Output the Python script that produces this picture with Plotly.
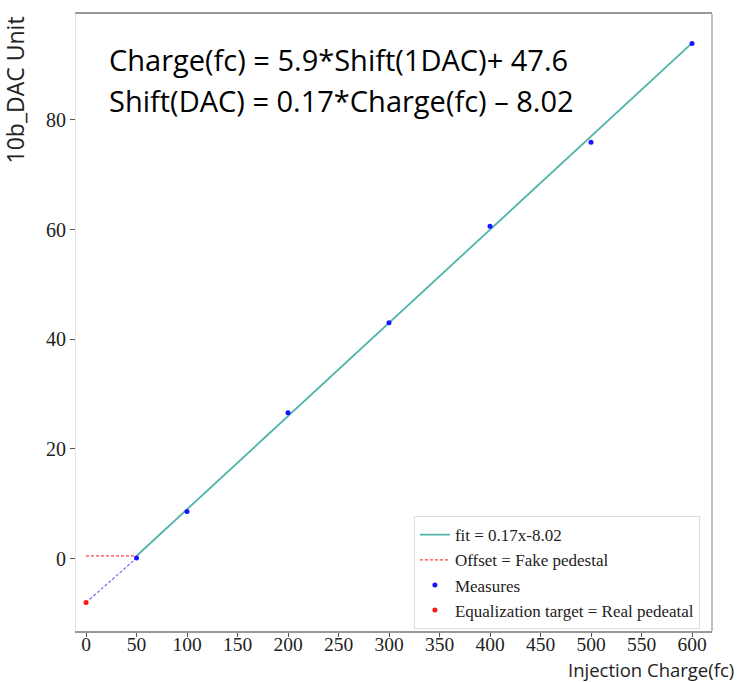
import plotly.graph_objects as go

# data
charge = [50, 100, 200, 300, 400, 500, 600]
dac_measured = [0.1, 8.6, 26.6, 43.0, 60.6, 75.9, 93.9]
fit_slope = 0.17
fit_intercept = -8.02
fit_x = [50, 600]
fit_y = [fit_slope * x + fit_intercept for x in fit_x]
offset_x = [0, 50]
offset_y = [fit_slope * 50 + fit_intercept] * 2
target_x = [0]
target_y = [-8.02]
extrap_x = [0, 50]
extrap_y = [-8.02, 0.1]
x_ticks = [0, 50, 100, 150, 200, 250, 300, 350, 400, 450, 500, 550, 600]
y_ticks = [0, 20, 40, 60, 80]

serif = "Liberation Serif, Times New Roman, serif"
sans = "Open Sans, Noto Sans, sans-serif"

fig = go.Figure()
fig.add_trace(go.Scatter(x=extrap_x, y=extrap_y, mode="lines",
                         line=dict(color="#6a6aff", width=1.2, dash="3px,2px"),
                         showlegend=False, hoverinfo="skip"))
fig.add_trace(go.Scatter(x=fit_x, y=fit_y, mode="lines", name="fit = 0.17x-8.02",
                         line=dict(color="#4fb3a9", width=1.8)))
fig.add_trace(go.Scatter(x=offset_x, y=offset_y, mode="lines", name="Offset = Fake pedestal",
                         line=dict(color="#ff4040", width=1.2, dash="3px,2px")))
fig.add_trace(go.Scatter(x=charge, y=dac_measured, mode="markers", name="Measures",
                         marker=dict(color="#1515ff", size=5)))
fig.add_trace(go.Scatter(x=target_x, y=target_y, mode="markers",
                         name="Equalization target = Real pedeatal",
                         marker=dict(color="#ff1515", size=5)))

fig.update_layout(
    width=738, height=682,
    margin=dict(l=76, r=26, t=12, b=51),
    paper_bgcolor="white", plot_bgcolor="white",
    font=dict(family=serif, size=20, color="#222"),
    showlegend=True,
    legend=dict(x=0.981, y=0.003, xanchor="right", yanchor="bottom",
                bgcolor="white", bordercolor="#dddddd", borderwidth=1,
                font=dict(family=serif, size=17, color="#222"),
                tracegroupgap=0),
    xaxis=dict(range=[-9.9, 619.8], tickvals=x_ticks, showgrid=False, zeroline=False,
               ticks="outside", ticklen=4, tickcolor="#555", ticklabelstandoff=-9,
               showline=True, linecolor="#999", linewidth=1.5, mirror=True,
               tickfont=dict(family=serif, size=19.5, color="#222")),
    yaxis=dict(range=[-13.2, 99.3], tickvals=y_ticks, showgrid=False, zeroline=False,
               ticks="outside", ticklen=5, tickcolor="#555",
               showline=True, linecolor="#e6e6e6", linewidth=1,
               tickfont=dict(family=serif, size=20, color="#222")),
    shapes=[dict(type="line", xref="paper", yref="paper", x0=1, x1=1, y0=0, y1=1,
                 line=dict(color="#aaaaaa", width=1.5))],
    annotations=[
        dict(text="Charge(fc) = 5.9*Shift(1DAC)+ 47.6", xref="paper", yref="paper",
             x=0.0487, y=0.927, xanchor="left", yanchor="middle", showarrow=False,
             font=dict(family=sans, size=29, color="black")),
        dict(text="Shift(DAC) = 0.17*Charge(fc) \u2013 8.02", xref="paper", yref="paper",
             x=0.0487, y=0.859, xanchor="left", yanchor="middle", showarrow=False,
             font=dict(family=sans, size=29, color="black")),
        dict(text="10b_DAC Unit", xref="paper", yref="paper", textangle=-90,
             x=-0.096, y=1.0, xanchor="center", yanchor="top", showarrow=False,
             font=dict(family=sans, size=23, color="#222")),
        dict(text="Injection Charge(fc)", xref="paper", yref="paper",
             x=1.038, y=-0.062, xanchor="right", yanchor="middle", showarrow=False,
             font=dict(family=sans, size=18.5, color="#222")),
    ],
)

fig.write_html("out.html")
